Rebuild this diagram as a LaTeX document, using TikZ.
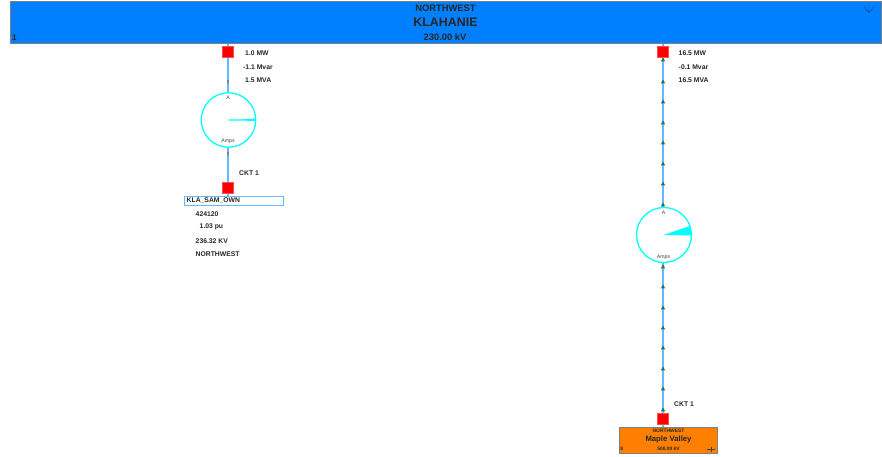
\documentclass[tikz,border=0pt]{standalone}
\usepackage{fontspec}
\setmainfont{Liberation Sans}
\usepackage{tikz}
\usetikzlibrary{positioning}
\definecolor{busblue}{RGB}{0,128,255}
\definecolor{busorange}{RGB}{255,128,0}
\definecolor{linkblue}{RGB}{100,185,255}
\definecolor{meteraqua}{RGB}{0,255,255}
\definecolor{flowgreen}{RGB}{40,115,85}
\tikzset{
	buslabel/.style={font=\bfseries\fontsize{#1}{#1}\selectfont,inner sep=0pt,text=black!85},
	smalllabel/.style={buslabel=5.8,anchor=west},
	meterlabel/.style={font=\fontsize{4.4}{4.4}\selectfont,inner sep=0pt,text=black!75},
	breaker/.style={fill=red,draw=red!70!white,line width=0.2pt,minimum size=9.4pt,inner sep=0pt},
	link/.style={linkblue,line width=1.3pt},
	meter/.style={circle,draw=meteraqua,fill=white,line width=1.1pt,inner sep=0pt},
	flowmark/.style={fill=flowgreen,draw=none},
	buswall/.style={draw=black!50,line width=0.5pt,inner sep=0pt},
}
\begin{document}
\begin{tikzpicture}[x=0.03cm,y=-0.03cm]
	\useasboundingbox (0,0) rectangle (882,457);
	\fill[white] (0,0) rectangle (882,457);

	% lines first, so that the boxes sit on top
	\coordinate (klatap) at (228,43);
	\coordinate (samtap) at (228,197);
	\coordinate (maptap) at (663,43);
	\coordinate (mvtap) at (663,427);
	\draw[link] (klatap) -- (samtap);
	\draw[link] (maptap) -- (mvtap);

	% buses
	\node[buswall,fill=busblue,minimum width=871*0.8536pt,minimum height=42*0.8536pt] (klabus) at (446,22.5) {};
	\node[buslabel=8] (kla1) at (445.5,8) {NORTHWEST};
	\node[buslabel=10.6] (kla2) at (445.5,22.5) {KLAHANIE};
	\node[buslabel=8] (kla3) at (445,37.5) {230.00 kV};
	\node[buslabel=7] (kla4) at (14.5,37.5) {1};
	\draw[black!45!busblue,line width=0.4pt] (869,2.5) -- (869,12.5) (864,7) -- (869,12.5) -- (874,7);

	\node[buswall,fill=busorange,minimum width=98*0.8536pt,minimum height=26*0.8536pt] (mvbus) at (668.7,440) {};
	\node[buslabel=4.2] (mv1) at (668.5,430.5) {NORTHWEST};
	\node[buslabel=6.6] (mv2) at (668.5,439.7) {Maple Valley};
	\node[buslabel=4.2] (mv3) at (668.5,449) {500.00 kV};
	\node[buslabel=4.2] (mv4) at (621.7,449) {8};
	\draw[black!75,line width=0.35pt] (707,449) -- (715,449) (711,447) -- (711,452);

	% low-voltage bus
	\node[draw=linkblue,fill=white,line width=0.6pt,minimum width=99*0.8536pt,minimum height=8.5*0.8536pt,inner sep=0pt] (sambus) at (233.5,201) {};
	\node[smalllabel] (samname) at (186.5,200.5) {KLA\_SAM\_OWN};

	% breakers
	\node[breaker] (brk1) at (228,52) {};
	\node[breaker] (brk2) at (228,187.5) {};
	\node[breaker] (brk3) at (663,52) {};
	\node[breaker] (brk4) at (663,418.5) {};

	% flow marks
	\foreach \y in {60,82,102,123,143,164,184,205,267,287,308,328,348,369,389,410}
		\fill[flowmark] (663,\y-2.4) -- (665.2,\y+1.4) -- (660.8,\y+1.4) -- cycle;
	\foreach \y in {82,154}
		\fill[black!50] (227.4,\y-1.5) rectangle (228.6,\y+1.5);

	% meters
	\node[meter,minimum size=54.5*0.8536pt] (meter1) at (228.5,120) {};
	\fill[meteraqua] (228.5,119.4) -- (242,119.3) -- (255.5,118.5) -- (255.5,121) -- (242,120.6) -- (228.5,120.6) -- cycle;
	\node[meterlabel] (meter1a) at (228,98) {A};
	\node[meterlabel] (meter1b) at (228,141.7) {Amps};

	\node[meter,minimum size=55*0.8536pt] (meter2) at (664,235) {};
	\fill[meteraqua] (663.3,235) -- (690.5,226) -- (691,235.5) -- cycle;
	\node[meterlabel] (meter2a) at (663.5,213) {A};
	\node[meterlabel] (meter2b) at (663.5,257) {Amps};

	% flow values
	\node[smalllabel] (mw1) at (245,53.5) {1.0 MW};
	\node[smalllabel] (mvar1) at (243,67) {-1.1 Mvar};
	\node[smalllabel] (mva1) at (245,80) {1.5 MVA};
	\node[smalllabel] (ckt1) at (239,173.5) {CKT 1};
	\node[smalllabel] (mw2) at (678.5,53.5) {16.5 MW};
	\node[smalllabel] (mvar2) at (678.5,67) {-0.1 Mvar};
	\node[smalllabel] (mva2) at (678.5,80) {16.5 MVA};
	\node[smalllabel] (ckt2) at (674,404.5) {CKT 1};

	% bus data
	\node[smalllabel] (samnum) at (195.5,213.7) {424120};
	\node[smalllabel] (sampu) at (199.5,227.3) {1.03 pu};
	\node[smalllabel] (samkv) at (195.5,240.7) {236.32 KV};
	\node[smalllabel] (samarea) at (195.5,254) {NORTHWEST};
\end{tikzpicture}
\end{document}
